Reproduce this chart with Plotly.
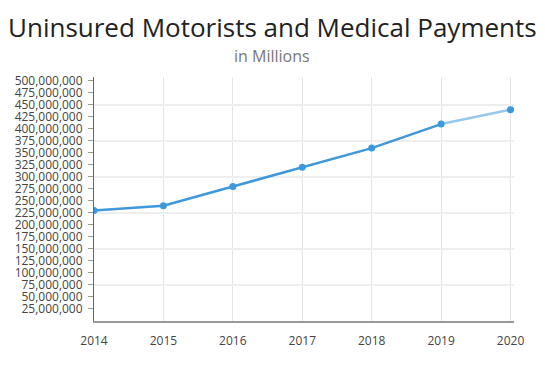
import plotly.graph_objects as go

years = [2014, 2015, 2016, 2017, 2018, 2019, 2020]
values = [230e6, 240e6, 280e6, 320e6, 360e6, 410e6, 440e6]
solid_until = 6  # darker segment covers 2014-2019

ytickvals = [i * 25e6 for i in range(1, 21)]
yticktext = [f"{int(v):,}" for v in ytickvals]

fig = go.Figure()
fig.add_trace(go.Scatter(x=years[solid_until - 1:], y=values[solid_until - 1:], mode="lines",
                         line=dict(color="#93c8ef", width=2.5), hoverinfo="skip", showlegend=False))
fig.add_trace(go.Scatter(x=years[:solid_until], y=values[:solid_until], mode="lines",
                         line=dict(color="#3d98dc", width=2.5), showlegend=False))
fig.add_trace(go.Scatter(x=years, y=values, mode="markers",
                         marker=dict(color="#3d98dc", size=7), showlegend=False))
fig.add_trace(go.Scatter(x=[years[0]], y=[values[0]], yaxis="y2", mode="markers",
                         marker=dict(opacity=0), hoverinfo="skip", showlegend=False))

# page body has an 8px offset; layout coordinates compensate for it
L, T, R, B = 86, 69, 39, 77
W, H = 545, 390
pw, ph = W - L - R, H - T - B
cx = (264 - L) / pw

yr = [0, 508e6]
fig.update_layout(
    width=W, height=H,
    margin=dict(l=L, r=R, t=T, b=B, autoexpand=False),
    paper_bgcolor="white", plot_bgcolor="white",
    font=dict(family="Open Sans", color="#444"),
    annotations=[
        dict(text="Uninsured Motorists and Medical Payments", xref="paper", yref="paper",
             x=cx, y=(H - B - 19) / ph, showarrow=False,
             xanchor="center", yanchor="middle", font=dict(size=26, color="#222")),
        dict(text="in Millions", xref="paper", yref="paper",
             x=cx, y=(H - B - 48) / ph, showarrow=False,
             xanchor="center", yanchor="middle", font=dict(size=16, color="#777")),
    ],
    xaxis=dict(range=[2014, 2020.05], tickmode="array", tickvals=years,
               ticktext=[str(y) for y in years], showgrid=True, gridcolor="#e6e6e6",
               zeroline=False, showline=True, linecolor="#999", linewidth=2,
               tickfont=dict(size=12, color="#444"), ticks="", automargin=False,
               ticklabelstandoff=8),
    yaxis=dict(range=yr, tickmode="array", tickvals=ytickvals, ticktext=yticktext,
               showgrid=False, zeroline=False, showline=True, linecolor="#666", linewidth=1,
               ticks="outside", ticklen=5, tickcolor="#999", automargin=False,
               tickfont=dict(size=12, color="#444"), ticklabelstandoff=3),
    yaxis2=dict(range=yr, overlaying="y", dtick=75e6, tick0=0, showgrid=True,
                gridcolor="#eeeeee", gridwidth=2, showticklabels=False, zeroline=False,
                showline=False, automargin=False),
)

fig.write_html("out.html")
